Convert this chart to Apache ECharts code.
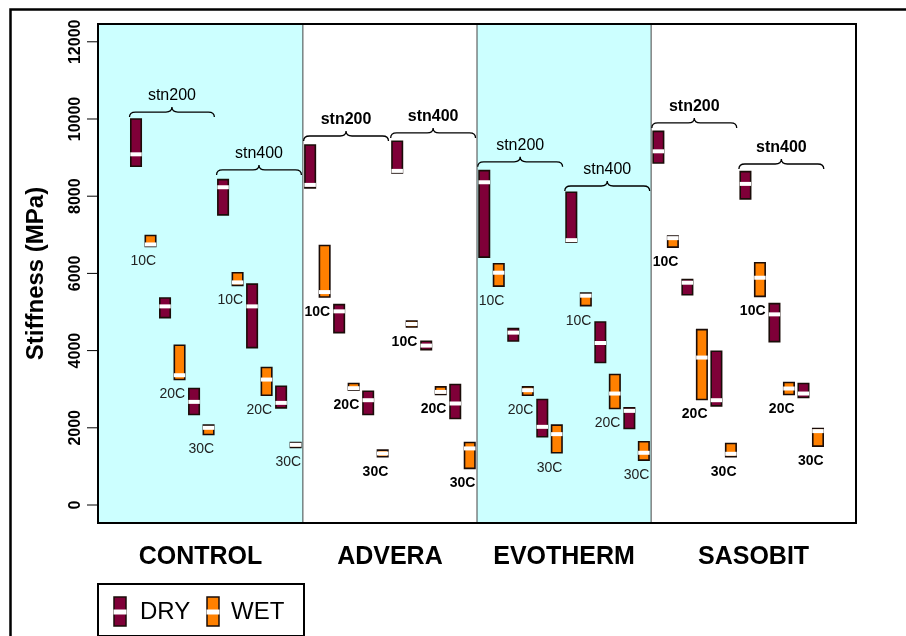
<!DOCTYPE html>
<html><head><meta charset="utf-8">
<script src="https://cdn.jsdelivr.net/npm/echarts@6/dist/echarts.min.js"></script>
<style>html,body{margin:0;padding:0;background:#fff}#c{width:906px;height:636px}</style>
</head><body><div id="c"></div>
<script>
// ---------- DATA ----------
const groups = ['CONTROL', 'ADVERA', 'EVOTHERM', 'SASOBIT'];
const stations = ['stn200', 'stn400'];
const temps = ['10C', '20C', '30C'];
// order: group -> station -> temperature (24 entries)
const dryMin = [8775, 4854, 2345,  7517, 4078, 2516,
                8216, 4466, 2345,  8604, 4026, 2242,
                6421, 4249, 1767,  6809, 3690, 1983,
                8862, 5448, 2568,  7931, 4233, 2785];
const dryMed = [9085, 5146, 2672,  8232, 5146, 2646,
                8293, 5017, 2715,  8655, 4130, 2630,
                8361, 4466, 2025,  6853, 4197, 2439,
                9163, 5759, 2715,  8319, 4939, 2888];
const dryMax = [10000, 5361, 3018, 8430, 5723, 3077,
                9327, 5190, 2948,  9422, 4241, 3121,
                8663, 4570, 2733,  8102, 4740, 2517,
                9680, 5844, 3982,  8637, 5216, 3147];
const wetMin = [6698, 3250, 1828,  5689, 2845, 1492,
                5387, 2974, 1249,  4611, 2862, 949,
                5671, 2845, 1353,  5164, 2500, 1164,
                6680, 2733, 1249,  5405, 2863, 1526];
const wetMed = [6750, 3362, 2000,  5767, 3250, 1560,
                5516, 3026, 1335,  4690, 2930, 1466,
                6018, 2974, 1836,  5423, 2888, 1353,
                6923, 3820, 1327,  5888, 3018, 1914];
const wetMax = [6982, 4138, 2069,  6017, 3561, 1621,
                6724, 3147, 1422,  4766, 3060, 1621,
                6250, 3060, 2069,  5490, 3380, 1637,
                6965, 4544, 1595,  6276, 3173, 1983];
// brace baseline level (group -> station)
const braceLevel = [10050, 8550, 9430, 9510, 8760, 8135, 9770, 8705];
const yTicks = [0, 2000, 4000, 6000, 8000, 10000, 12000];
const legendNames = ['DRY', 'WET'];

// ---------- LAYOUT / STYLE ----------
const FONT = 'Liberation Sans, Arial, Helvetica, sans-serif';
const DRY = '#7f0038', WET = '#ff8000', SHADE = '#ccffff';
const XMIN = -1.62, XMAX = 50.62, YMIN = -466, YMAX = 12461;
const edges = [XMIN, 12.5, 24.5, 36.5, XMAX];

const boxData = [];
const labelData = [];
const braceData = [];
let k = 0;
groups.forEach((g, gi) => {
  stations.forEach((s, si) => {
    const base = 1 + gi * 12 + si * 6;
    braceData.push([base - 0.45, base + 5.4, braceLevel[gi * 2 + si], s, gi]);
    temps.forEach((t, ti) => {
      const p = base + ti * 2;
      boxData.push([p, dryMin[k], dryMed[k], dryMax[k], 0]);
      boxData.push([p + 1, wetMin[k], wetMed[k], wetMax[k], 1]);
      labelData.push([p + 0.5, wetMin[k], t, gi]);
      k++;
    });
  });
});
const regionData = groups.map((g, i) => [edges[i], edges[i + 1], g, i]);
const tickData = yTicks.map(v => [XMIN, v]);

const chart = echarts.init(document.getElementById('c'), null, {renderer: 'canvas'});

const option = {
  animation: false,
  backgroundColor: '#fff',
  grid: {left: 98, top: 24, width: 758, height: 499, show: false},
  xAxis: {type: 'value', min: XMIN, max: XMAX, show: false},
  yAxis: {
    type: 'value', min: YMIN, max: YMAX,
    axisLine: {show: false}, splitLine: {show: false},
    axisTick: {show: false},
    axisLabel: {customValues: yTicks, rotate: 90, margin: 14, fontSize: 16, fontWeight: 'bold',
      color: '#000', fontFamily: FONT, formatter: v => String(v)},
    name: 'Stiffness (MPa)', nameLocation: 'middle', nameRotate: 90, nameGap: 50,
    nameTextStyle: {fontSize: 24, fontWeight: 'bold', color: '#000', fontFamily: FONT}
  },
  series: [
    { // shaded regions + dividers + group names
      type: 'custom', z: 1, clip: false,
      data: regionData,
      renderItem: (params, api) => {
        const a = api.coord([api.value(0), YMAX]);
        const b = api.coord([api.value(1), YMIN]);
        const i = api.value(3);
        const ch = [];
        if (i % 2 === 0) ch.push({type: 'rect', shape: {x: a[0], y: a[1], width: b[0] - a[0], height: b[1] - a[1]}, style: {fill: SHADE}});
        if (i > 0) ch.push({type: 'line', shape: {x1: a[0], y1: a[1], x2: a[0], y2: b[1]}, style: {stroke: '#444', lineWidth: 1}});
        ch.push({type: 'text', x: (a[0] + b[0]) / 2, y: b[1] + 34,
          style: {text: groups[i], fontSize: 25, fontWeight: 'bold', fontFamily: FONT, fill: '#000', align: 'center', verticalAlign: 'middle'}});
        return {type: 'group', children: ch};
      }
    },
    { // y ticks
      type: 'custom', z: 5, clip: false,
      data: tickData,
      renderItem: (params, api) => {
        const p = api.coord([api.value(0), api.value(1)]);
        return {type: 'line', shape: {x1: p[0] - 11, y1: p[1], x2: p[0], y2: p[1]}, style: {stroke: '#000', lineWidth: 1}};
      }
    },
    { // boxes
      type: 'custom', z: 3, clip: false,
      data: boxData,
      renderItem: (params, api) => {
        const x = api.value(0), lo = api.value(1), md = api.value(2), hi = api.value(3), kind = api.value(4);
        const pLo = api.coord([x, lo]), pHi = api.coord([x, hi]), pMd = api.coord([x, md]);
        const w = api.size([0.72, 0])[0];
        const x0 = pLo[0] - w / 2, top = pHi[1], bot = pLo[1];
        let sy = pMd[1] - 2;
        sy = Math.max(top, Math.min(bot - 4, sy));
        return {type: 'group', children: [
          {type: 'rect', shape: {x: x0, y: top, width: w, height: bot - top},
            style: {fill: kind ? WET : DRY, stroke: '#1a0c08', lineWidth: 1.6}},
          {type: 'rect', shape: {x: x0 - 0.5, y: sy, width: w + 1, height: 4}, style: {fill: '#fff'}}
        ]};
      }
    },
    { // temperature labels
      type: 'custom', z: 4, clip: false,
      data: labelData,
      renderItem: (params, api) => {
        const p = api.coord([api.value(0), api.value(1)]);
        const gi = api.value(3);
        return {type: 'text', x: p[0], y: p[1] + 15,
          style: {text: labelData[params.dataIndex][2], fontSize: 14, fontFamily: FONT,
            fontWeight: gi % 2 ? 'bold' : 'normal', fill: gi % 2 ? '#000' : '#222', align: 'center', verticalAlign: 'middle'}};
      }
    },
    { // braces
      type: 'custom', z: 4, clip: false,
      data: braceData,
      renderItem: (params, api) => {
        const a = api.coord([api.value(0), api.value(2)]);
        const b = api.coord([api.value(1), api.value(2)]);
        const gi = api.value(4);
        const y = a[1], yf = y - 5, yt = y - 10, xm = (a[0] + b[0]) / 2, r = 6;
        const path = `M${a[0]},${y} Q${a[0]},${yf} ${a[0] + r},${yf} L${xm - r},${yf} Q${xm},${yf} ${xm},${yt} Q${xm},${yf} ${xm + r},${yf} L${b[0] - r},${yf} Q${b[0]},${yf} ${b[0]},${y}`;
        return {type: 'group', children: [
          {type: 'path', shape: {pathData: path}, style: {fill: null, stroke: '#000', lineWidth: 1.3}},
          {type: 'text', x: xm, y: y - 21, style: {text: braceData[params.dataIndex][3], fontSize: 16, fontFamily: FONT,
            fontWeight: gi % 2 ? 'bold' : 'normal', fill: '#000', align: 'center', verticalAlign: 'middle'}}
        ]};
      }
    },
    { // plot frame
      type: 'custom', z: 5, clip: false,
      data: [[XMIN, XMAX]],
      renderItem: (params, api) => {
        const a = api.coord([XMIN, YMAX]), b = api.coord([XMAX, YMIN]);
        return {type: 'rect', shape: {x: a[0], y: a[1], width: b[0] - a[0], height: b[1] - a[1]},
          style: {fill: null, stroke: '#000', lineWidth: 2}};
      }
    }
  ],
  graphic: [
    {type: 'rect', left: 8, top: 7, shape: {x: 0, y: 0, width: 1000, height: 700}, style: {fill: null, stroke: '#000', lineWidth: 2.5}, silent: true},
    {type: 'group', left: 97, top: 583, children: [
      {type: 'rect', shape: {x: 0, y: 0, width: 206, height: 52}, style: {fill: '#fff', stroke: '#000', lineWidth: 2}},
      {type: 'rect', shape: {x: 16, y: 13, width: 12, height: 29}, style: {fill: DRY, stroke: '#1a0c08', lineWidth: 1.5}},
      {type: 'rect', shape: {x: 15.5, y: 25.5, width: 13, height: 5}, style: {fill: '#fff'}},
      {type: 'text', x: 42, y: 28, style: {text: legendNames[0], fontSize: 24, fontFamily: FONT, fill: '#000', verticalAlign: 'middle'}},
      {type: 'rect', shape: {x: 109, y: 13, width: 12, height: 29}, style: {fill: WET, stroke: '#1a0c08', lineWidth: 1.5}},
      {type: 'rect', shape: {x: 108.5, y: 25.5, width: 13, height: 5}, style: {fill: '#fff'}},
      {type: 'text', x: 133, y: 28, style: {text: legendNames[1], fontSize: 24, fontFamily: FONT, fill: '#000', verticalAlign: 'middle'}}
    ]}
  ]
};
chart.setOption(option);
</script>
</body></html>
